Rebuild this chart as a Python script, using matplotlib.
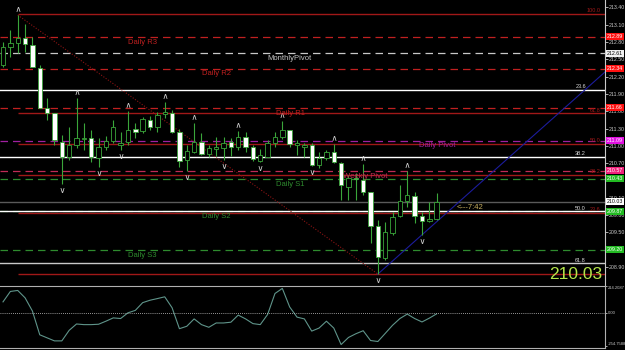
import matplotlib
matplotlib.use("Agg")
import matplotlib.pyplot as plt
from matplotlib.transforms import blended_transform_factory

plt.rcParams['font.family'] = ['Liberation Sans', 'DejaVu Sans']

# bars (one per index, oldest first)
opens = [212.40, 212.72, 212.78, 212.87, 212.75, 212.35, 211.66, 211.57, 211.07, 210.81,
         211.02, 211.12, 211.14, 210.79, 210.98, 211.09, 211.02, 211.07, 211.29, 211.26,
         211.45, 211.33, 211.55, 211.57, 211.24, 210.76, 210.90, 211.07, 210.86, 210.95,
         210.96, 211.07, 210.98, 211.16, 210.98, 210.74, 210.81, 211.05, 211.16, 211.28,
         211.02, 210.98, 211.02, 210.67, 210.79, 210.90, 210.71, 210.29, 210.45, 210.41,
         210.20, 209.61, 209.06, 209.49, 209.79, 210.05, 210.13, 209.79, 209.70, 209.73]
highs = [212.80, 213.01, 213.27, 213.11, 212.89, 212.40, 211.83, 211.57, 211.19, 211.33,
         211.83, 211.40, 211.28, 211.14, 211.17, 211.45, 211.24, 211.61, 211.40, 211.50,
         211.52, 211.59, 211.76, 211.62, 211.29, 211.02, 211.40, 211.22, 211.02, 211.16,
         211.16, 211.14, 211.26, 211.24, 211.02, 210.95, 211.10, 211.24, 211.43, 211.28,
         211.10, 211.05, 211.05, 210.90, 210.93, 211.04, 210.72, 210.50, 210.53, 210.69,
         210.20, 209.72, 209.68, 209.86, 210.32, 210.57, 210.20, 209.86, 210.03, 210.19]
lows = [212.37, 212.54, 212.61, 212.63, 212.37, 211.66, 211.45, 211.02, 210.34, 210.76,
        210.97, 210.93, 210.72, 210.64, 210.93, 211.05, 210.93, 211.02, 211.14, 211.22,
        211.28, 211.24, 211.49, 211.22, 210.64, 210.57, 210.88, 210.84, 210.80, 210.82,
        210.76, 210.82, 210.93, 210.90, 210.74, 210.72, 210.81, 210.98, 211.12, 210.98,
        210.84, 210.81, 210.65, 210.62, 210.76, 210.71, 210.07, 210.07, 210.07, 210.15,
        209.32, 208.78, 209.02, 209.46, 209.77, 209.94, 209.66, 209.46, 209.68, 209.71]
closes = [212.72, 212.78, 212.87, 212.77, 212.37, 211.66, 211.57, 211.10, 210.81, 211.02,
          211.14, 211.14, 210.81, 210.98, 211.09, 211.33, 211.05, 211.28, 211.24, 211.47,
          211.33, 211.54, 211.59, 211.24, 210.74, 210.91, 211.07, 210.86, 210.96, 210.98,
          211.05, 210.98, 211.16, 210.98, 210.77, 210.84, 211.05, 211.16, 211.28, 211.04,
          211.05, 211.02, 210.67, 210.79, 210.90, 210.72, 210.32, 210.45, 210.43, 210.20,
          209.61, 209.08, 209.51, 209.77, 210.05, 210.15, 209.79, 209.70, 209.73, 210.03]

up_fractals = [2, 10, 17, 22, 26, 32, 38, 45, 49, 55]
down_fractals = [8, 13, 16, 25, 30, 35, 42, 51, 57]

pivot_names = ["Daily R3", "MonthlyPivot", "Daily R2", "Daily R1", "Daily Pivot",
               "Weekly Pivot", "Daily S1", "Daily S2", "Daily S3"]
pivot_levels = [212.89, 212.61, 212.34, 211.66, 211.09, 210.57, 210.43, 209.87, 209.20]

# the 0.0 level label sits under the big bid text, so it is left blank
fib_red_levels = [213.29, 211.57, 211.04, 210.50, 209.84, 208.78]
fib_red_labels = ["100.0", "61.8", "50.0", "38.2", "23.6", ""]
fib_white_levels = [211.97, 210.81, 209.87, 208.97]
fib_white_labels = ["23.6", "38.2", "50.0", "61.8"]

last_price = 210.03
timer_text = "<---7:42"

price_ticks = [208.90, 209.50, 209.80, 210.10, 210.70, 211.00, 211.30,
               211.60, 211.90, 212.20, 212.50, 212.80, 213.10, 213.40]

# oscillator in the lower window
cci = [91, 173, 181, 123, 19, -168, -192, -216, -216, -133,
       -83, -88, -88, -85, -61, -35, -40, 5, 24, 85,
       104, 117, 131, 45, -120, -101, -43, -88, -109, -75,
       -75, -69, -13, -43, -80, -88, -8, 157, 197, 51,
       -29, -43, -139, -115, -61, -115, -245, -189, -160, -136,
       -213, -221, -157, -93, -40, -5, -40, -67, -37, -3]
cci_top, cci_bottom = 214.2087, -254.7588

# styles
BULL_EDGE = '#3aa63a'
pivot_style = {
    "Daily R3": ('#c02020', '#ff1010', 17.0),
    "MonthlyPivot": ('#c8c8c8', '#f0f0f0', 36.0),
    "Daily R2": ('#c02020', '#ff1010', 27.1),
    "Daily R1": ('#c02020', '#ff1010', 37.1),
    "Daily Pivot": ('#a020a0', '#e010e0', 56.6),
    "Weekly Pivot": ('#c02a55', '#f0207a', 46.3),
    "Daily S1": ('#2e8b2e', '#22bb22', 37.1),
    "Daily S2": ('#2e8b2e', '#22bb22', 27.1),
    "Daily S3": ('#2e8b2e', '#22bb22', 17.0),
}

fig = plt.figure(figsize=(6.25, 3.5), dpi=100, facecolor='black')
ax = fig.add_axes([0, 65 / 350, 605 / 625, 285 / 350], facecolor='black')
ax_osc = fig.add_axes([0, 2 / 350, 605 / 625, 62 / 350], facecolor='black')

x_left, x_right = -0.41, 81.9
ax.set_xlim(x_left, x_right)
ax.set_ylim(208.59, 213.53)

# pivot levels
for name, lvl in zip(pivot_names, pivot_levels):
    col, box, tx = pivot_style[name]
    ax.axhline(lvl, color=col, lw=0.9, dashes=(6, 4), zorder=1)
    ax.text(tx, lvl - 0.03, name, color=col, fontsize=5.5, va='top', ha='left', zorder=6)

# fibo sets
for lvl, lab in zip(fib_red_levels, fib_red_labels):
    ax.hlines(lvl, 2, x_right, color='#a01818', lw=1.0, zorder=1)
    if lab:
        ax.text(81.3, lvl + 0.01, lab, color='#a01818', fontsize=4, ha='right', va='bottom')
for k, (lvl, lab) in enumerate(zip(fib_white_levels, fib_white_labels)):
    c = '#c8c8c8' if k == len(fib_white_levels) - 1 else 'white'
    ax.axhline(lvl, color=c, lw=1.0, zorder=2)
    ax.text(79.3, lvl + 0.01, lab, color='#d8d8d8', fontsize=4, ha='right', va='bottom')

# current price line and timer
ax.axhline(last_price, color='#5a5a5a', lw=1.0, zorder=1)
ax.text(61.7, last_price - 0.03, timer_text, color='#c8b060', fontsize=5.5, va='top')

# trend lines
ax.plot([2, 51], [highs[2], lows[51]], color='#8b1414', lw=0.8, ls=(0, (1, 1.5)), zorder=2)
slope = (lows[57] - lows[51]) / (57 - 51)
ax.plot([51, x_right], [lows[51], lows[51] + slope * (x_right - 51)], color='#1c1c9c', lw=0.8, zorder=2)

# candles
for i, (o, h, l, c) in enumerate(zip(opens, highs, lows, closes)):
    ax.vlines(i, l, h, color=BULL_EDGE, lw=0.8, zorder=3)
    bottom = min(o, c)
    height = max(abs(c - o), 0.012)
    face = 'black' if c >= o else 'white'
    ax.bar(i, height, bottom=bottom, width=0.6, facecolor=face, edgecolor=BULL_EDGE, lw=0.6, zorder=4)

ax.scatter(up_fractals, [highs[i] + 0.1 for i in up_fractals], marker=r'$\wedge$', s=12,
           color='#d8d8d8', zorder=5, linewidths=0)
ax.scatter(down_fractals, [lows[i] - 0.1 for i in down_fractals], marker=r'$\vee$', s=12,
           color='#d8d8d8', zorder=5, linewidths=0)

# right scale
ax.yaxis.tick_right()
ax.set_yticks(price_ticks)
ax.set_yticklabels([f"{p:.2f}" for p in price_ticks])
ax.tick_params(axis='y', colors='#c8c8c8', labelsize=3.8, length=2, width=0.6, pad=1)
ax.set_xticks([])
for s in ['left', 'top', 'bottom']:
    ax.spines[s].set_visible(False)
ax.spines['right'].set_color('#c8c8c8')
ax.spines['right'].set_linewidth(0.8)

trans = blended_transform_factory(ax.transAxes, ax.transData)
for name, lvl in zip(pivot_names, pivot_levels):
    col, box, tx = pivot_style[name]
    tcol = 'black' if name == "MonthlyPivot" else 'white'
    ax.text(1.003, lvl, f"{lvl:.2f}", transform=trans, fontsize=3.8, color=tcol, va='center', ha='left',
            clip_on=False, zorder=7, bbox=dict(boxstyle='square,pad=0.2', fc=box, ec='none'))
ax.text(1.003, last_price, f"{last_price:.2f}", transform=trans, fontsize=3.8, color='black', va='center',
        ha='left', clip_on=False, zorder=7, bbox=dict(boxstyle='square,pad=0.2', fc='white', ec='none'))
ax.text(0.995, 0.012, f"{last_price:.2f}", transform=ax.transAxes, fontsize=12.5, color='#b4e64a',
        ha='right', va='bottom', zorder=8)

# oscillator window
ax_osc.plot(range(len(cci)), cci, color='#5f948a', lw=0.8)
ax_osc.axhline(0, color='#c8c8c8', lw=0.6, ls=(0, (1, 1.5)))
ax_osc.set_xlim(x_left, x_right)
ax_osc.set_ylim(-272, 216)
ax_osc.set_xticks([])
ax_osc.yaxis.tick_right()
ax_osc.set_yticks([cci_top, 0, cci_bottom])
ax_osc.set_yticklabels([f"{cci_top:.4f}", "0.00", f"{cci_bottom:.4f}"])
ax_osc.tick_params(axis='y', colors='#c8c8c8', labelsize=3.0, length=1.5, width=0.6, pad=0.5)
for lab in ax_osc.get_yticklabels():
    lab.set_verticalalignment('center')
ax_osc.get_yticklabels()[0].set_verticalalignment('top')
ax_osc.get_yticklabels()[2].set_verticalalignment('bottom')
ax_osc.spines['left'].set_visible(False)
for s in ['top', 'bottom', 'right']:
    ax_osc.spines[s].set_color('#b0b0b0')
    ax_osc.spines[s].set_linewidth(0.8)

fig.savefig("out.png", dpi=100, facecolor='black')
